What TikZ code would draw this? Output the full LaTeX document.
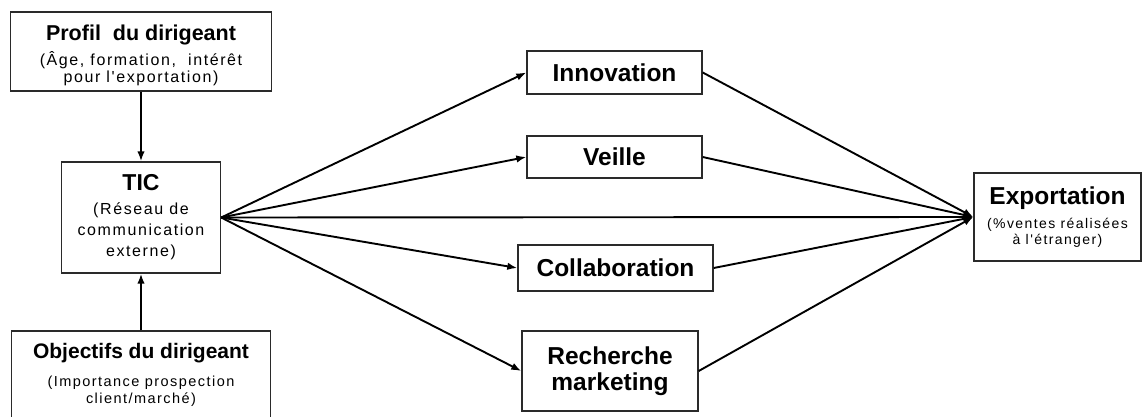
\documentclass[tikz,border=0pt]{standalone}
\usepackage{fontspec}
\setmainfont{Liberation Sans}
\newfontfamily\subf[LetterSpace=10]{Liberation Sans}
\usetikzlibrary{arrows.meta}
\definecolor{boxc}{HTML}{2A2A2A}
\newcommand\ttl[2]{{\normalfont\fontsize{#1}{#1}\selectfont\bfseries #2}}
\begin{document}
\begin{tikzpicture}[x=1pt,y=-1pt,
  box/.style={draw=boxc, line width=1.4pt, inner sep=0pt, align=center, fill=white},
  conn/.style={line width=1.9pt, -{Latex[length=10pt,width=7.5pt]}}]
\useasboundingbox (0,0) rectangle (1143,417);
\node[box, minimum width=261pt, minimum height=79pt, font={\subf\fontsize{16}{17}\selectfont}] (profil) at (141,51.5)
  {\ttl{21.5}{\rule{0pt}{23.5pt}Profil\ \ du dirigeant}\\[6pt](Âge, formation,\ \ intérêt\\pour l'exportation)};
\node[box, minimum width=159pt, minimum height=111pt, font={\subf\fontsize{16}{21}\selectfont}] (tic) at (141,217.5)
  {\ttl{23}{TIC}\\[3pt](Réseau de\\communication\\externe)};
\node[box, minimum width=259pt, minimum height=87pt, font={\subf\fontsize{14.5}{17}\selectfont}] (obj) at (141,374.5)
  {\ttl{21}{Objectifs du dirigeant}\\[11pt](Importance prospection\\client/marché)};
\node[box, minimum width=175pt, minimum height=43pt] (inno) at (614.5,72.5) {\ttl{24.5}{Innovation}};
\node[box, minimum width=175pt, minimum height=42pt] (veille) at (614.5,157) {\ttl{24.5}{Veille}};
\node[box, minimum width=195pt, minimum height=46pt] (colla) at (615.5,268) {\ttl{24.5}{Collaboration}};
\node[box, minimum width=176pt, minimum height=80pt, font={\fontsize{24.5}{26}\selectfont\bfseries}] (rech) at (610,371) {Recherche\\marketing};
\node[box, minimum width=167pt, minimum height=88pt, font={\subf\fontsize{14}{16}\selectfont}] (exp) at (1057.5,217)
  {\ttl{24.5}{Exportation}\\[8pt](\%ventes réalisées\\à l'étranger)};
\draw[conn] (profil.south) -- (tic.north);
\draw[conn] (obj.north) -- (tic.south);
\draw[conn] (tic.east) -- (inno.west);
\draw[conn] (tic.east) -- (veille.west);
\draw[conn] (tic.east) -- (exp.west);
\draw[conn] (tic.east) -- (colla.west);
\draw[conn] (tic.east) -- (rech.west);
\draw[conn] (inno.east) -- (exp.west);
\draw[conn] (veille.east) -- (exp.west);
\draw[conn] (colla.east) -- (exp.west);
\draw[conn] (rech.east) -- (exp.west);
\end{tikzpicture}
\end{document}
